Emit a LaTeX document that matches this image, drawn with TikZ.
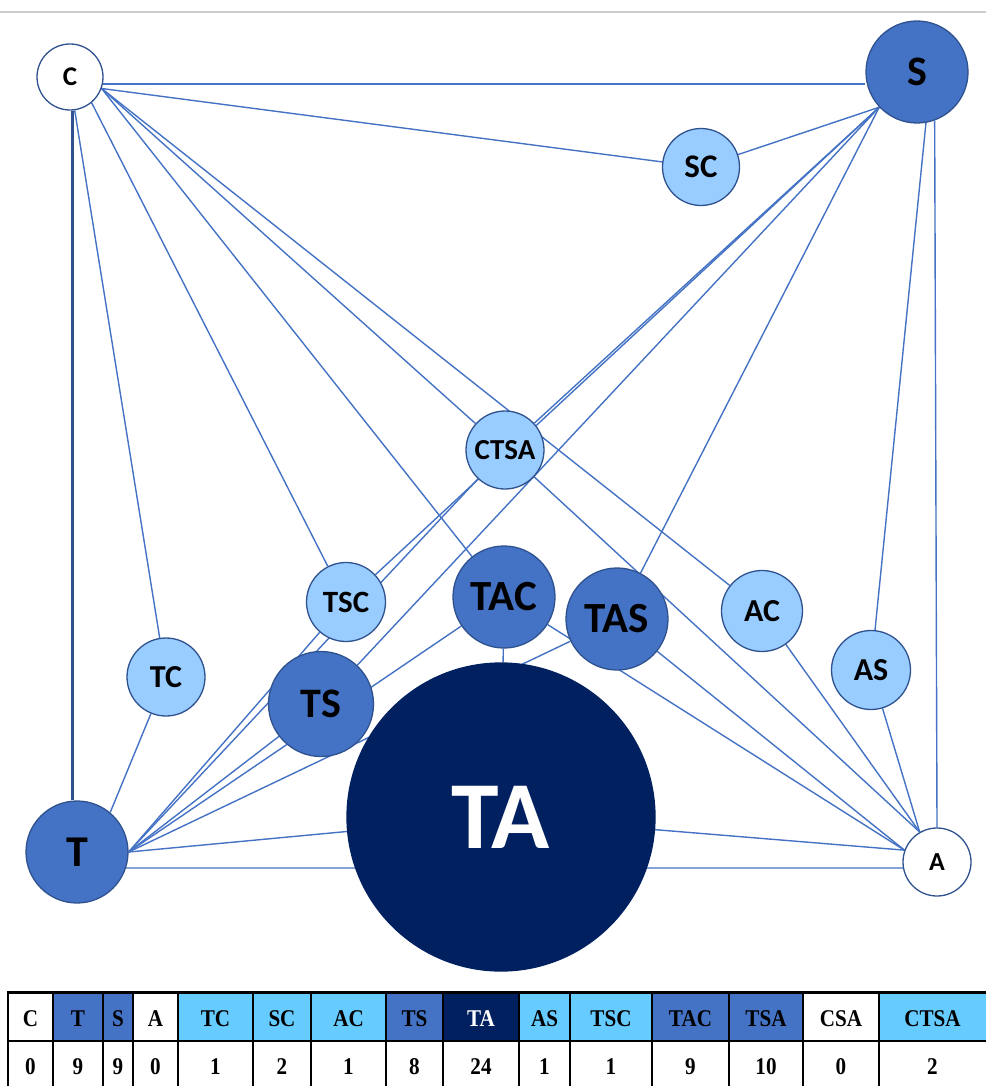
\documentclass[tikz,border=0pt]{standalone}
\usepackage{fontspec}
\newfontfamily\labfont{Carlito}
\newfontfamily\tabfont[FakeStretch=0.88]{Liberation Serif}
\usepackage{tikz}
\usetikzlibrary{backgrounds}

\definecolor{chiaro}{HTML}{99CCFF}
\definecolor{medio}{HTML}{4472C4}
\definecolor{scuro}{HTML}{002060}
\definecolor{bordo}{HTML}{2F528F}
\definecolor{linea}{HTML}{4472C4}
\definecolor{cella}{HTML}{66CCFF}
\newcommand{\fsz}[1]{\fontsize{#1}{#1}\selectfont}

\begin{document}
\begin{tikzpicture}[x=1pt, y=-1pt,
		nodo/.style={circle, draw=bordo, line width=1.3pt, inner sep=0pt},
		vuoto/.style={nodo, fill=white},
		piccolo/.style={nodo, fill=chiaro},
		grande/.style={nodo, fill=medio},
		arco/.style={draw=linea, line width=1.4pt}]
			
			\useasboundingbox (0,0) rectangle (986,1086);
			
			% Riga grigia in alto
			\draw[black!20, line width=2pt] (0,12) -- (986,12);
			
			% Vertici semplici
			\node[vuoto, minimum size=66pt, font=\labfont\bfseries\fsz{27}] (C) at (70,77) {C};
			\node[grande, minimum size=102pt, font=\labfont\bfseries\fsz{42}] (S) at (917,72) {S};
			\node[grande, minimum size=102pt, font=\labfont\bfseries\fsz{44}] (T) at (77,852) {T};
			\node[vuoto, minimum size=68pt, font=\labfont\bfseries\fsz{26}] (A) at (937,862) {A};
			
			% Coppie e terne
			\node[piccolo, minimum size=77pt, font=\labfont\bfseries\fsz{33}] (SC) at (701,167) {SC};
			\node[piccolo, minimum size=78pt, font=\labfont\bfseries\fsz{29}] (CTSA) at (505,450) {CTSA};
			\node[piccolo, minimum size=79pt, font=\labfont\bfseries\fsz{31}] (TSC) at (346,602) {TSC};
			\node[piccolo, minimum size=78pt, font=\labfont\bfseries\fsz{32}] (TC) at (166,677) {TC};
			\node[grande, minimum size=102pt, font=\labfont\bfseries\fsz{43}] (TAC) at (504,597) {TAC};
			\node[grande, minimum size=102pt, font=\labfont\bfseries\fsz{43}] (TAS) at (617,619) {TAS};
			\node[piccolo, minimum size=81pt, font=\labfont\bfseries\fsz{32}] (AC) at (762,611) {AC};
			\node[piccolo, minimum size=79pt, font=\labfont\bfseries\fsz{32}] (AS) at (871,670) {AS};
			\node[grande, minimum size=105pt, font=\labfont\bfseries\fsz{42}] (TS) at (321,704) {TS};
			\node[nodo, fill=scuro, draw=scuro, minimum size=308pt, text=white, font=\labfont\bfseries\fsz{96}] (TA) at (501,817) {TA};
			
			% Archi (sotto i cerchi)
			\begin{pgfonlayer}{background}
				\draw[draw=bordo, line width=3pt] (C.-86) -- (C.-86 |- T.north);
				\draw[arco] (C.-12) -- (S.west |- C.-12);
				\draw[arco] (S.-70) -- (A.north);
				\draw[arco] (T.-18) -- (A.190);
				\foreach \n in {SC, TAC, CTSA, AC} {
					\draw[arco] (C.-20) -- (\n);
				}
				\draw[arco] (C.-50) -- (TSC);
				\draw[arco] (C.-82) -- (TC);
				\foreach \n in {SC, CTSA, TSC, TS, TAS} {
					\draw[arco] (S.223) -- (\n);
				}
				\draw[arco] (S.-80) -- (AS);
				\draw[arco] (T.50) -- (TC);
				\foreach \n in {TS, TSC, CTSA, TAC, TAS, TA} {
					\draw[arco] (T.east) -- (\n);
				}
				\foreach \n in {TA, TAC, TAS} {
					\draw[arco] (A.160) -- (\n);
				}
				\foreach \n in {AC, AS, CTSA} {
					\draw[arco] (A.120) -- (\n);
				}
				\draw[arco] (TAC) -- (TA);
			\end{pgfonlayer}
			
			% Tabella dei conteggi
			\foreach \xa/\xb/\lab/\num/\col/\tc [count=\i] in {
				8/53/C/0/white/black, 53/103/T/9/medio/black, 103/133/S/9/medio/black,
				133/178/A/0/white/black, 178/253/TC/1/cella/black, 253/311/SC/2/cella/black,
				311/386/AC/1/cella/black, 386/443/TS/8/medio/black, 443/519/TA/24/scuro/white,
				519/570/AS/1/cella/black, 570/652/TSC/1/cella/black, 652/729/TAC/9/medio/black,
				729/803/TSA/10/medio/black, 803/879/CSA/0/white/black, 879/986/CTSA/2/cella/black} {
				\fill[\col] (\xa,992) rectangle (\xb,1041);
				\node[text=\tc, font=\tabfont\bfseries\fsz{24}] (h\i) at ({(\xa+\xb)/2},1019) {\lab};
				\node[font=\tabfont\bfseries\fsz{24}] (v\i) at ({(\xa+\xb)/2},1067) {\num};
			}
			\foreach \x in {8, 53, 103, 133, 178, 253, 311, 386, 443, 519, 570, 652, 729, 803, 879} {
				\draw[line width=2pt] (\x,992) -- (\x,1086);
			}
			\draw[line width=3pt] (7,992) -- (986,992);
			\draw[line width=2pt] (7,1041) -- (986,1041);
			
		\end{tikzpicture}
\end{document}
